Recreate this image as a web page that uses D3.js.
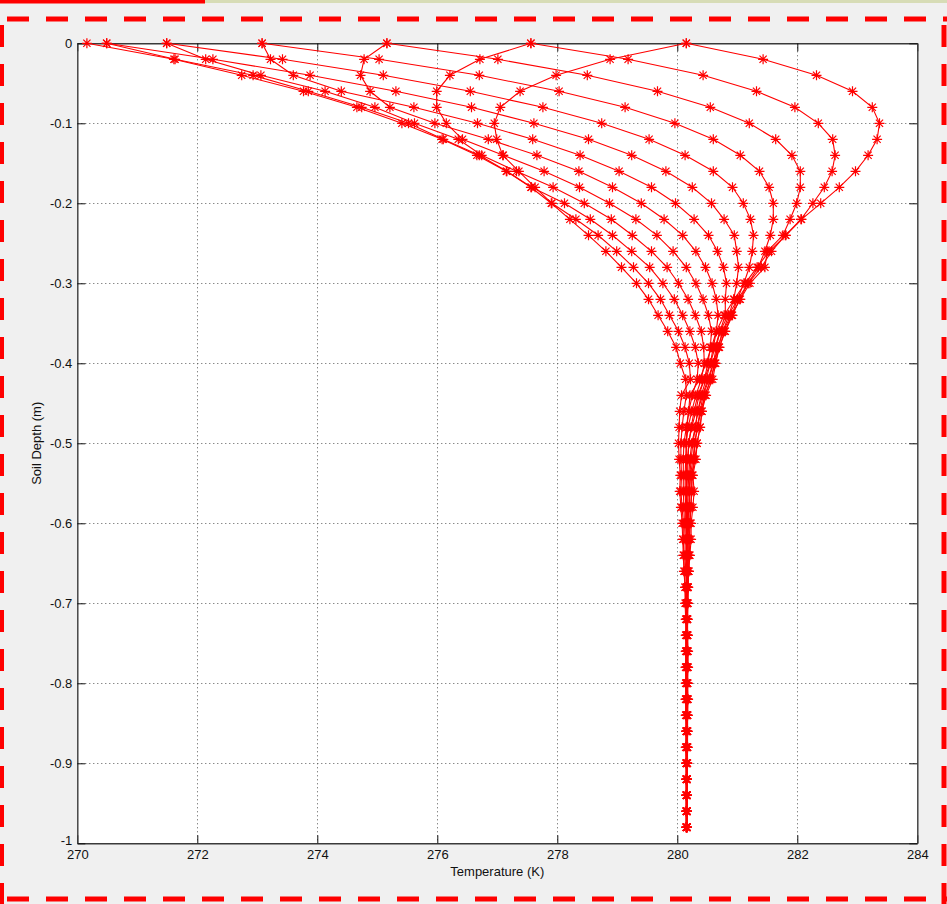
<!DOCTYPE html>
<html><head><meta charset="utf-8">
<script src="https://cdn.jsdelivr.net/npm/d3@7"></script>
<style>
html,body{margin:0;padding:0;background:#f0f0f0;}
svg{display:block;}
</style></head><body>
<svg id="chart" width="947" height="904"></svg>
<script>
// ---------- data ----------
const depth = [0,-0.02,-0.04,-0.06,-0.08,-0.1,-0.12,-0.14,-0.16,-0.18,-0.2,-0.22,-0.24,-0.26,-0.28,-0.3,-0.32,-0.34,-0.36,-0.38,-0.4,-0.42,-0.44,-0.46,-0.48,-0.5,-0.52,-0.54,-0.56,-0.58,-0.6,-0.62,-0.64,-0.66,-0.68,-0.7,-0.72,-0.74,-0.76,-0.78,-0.8,-0.82,-0.84,-0.86,-0.88,-0.9,-0.92,-0.94,-0.96,-0.98];

const profile01 = [280.15,281.43,282.32,282.92,283.25,283.37,283.33,283.18,282.97,282.70,282.39,282.07,281.81,281.53,281.33,281.13,280.95,280.78,280.65,280.57,280.48,280.37,280.21,
  280.19,280.16,280.15,280.15,280.15,280.15,280.15,280.15,280.15,280.16,280.16,280.16,280.16,
  280.16,280.16,280.15,280.15,280.15,280.15,280.15,280.15,280.15,280.15,280.15,280.15,280.15,280.15];
const profile02 = [277.56,279.18,280.43,281.32,281.96,282.35,282.59,282.63,282.58,282.45,282.26,282.06,281.80,281.57,281.40,281.18,281.01,280.85,280.71,280.63,280.55,280.45,280.34,
  280.28,280.23,280.19,280.18,280.17,280.16,280.16,280.16,280.16,280.16,280.16,280.16,280.16,
  280.16,280.16,280.16,280.16,280.16,280.16,280.16,280.16,280.16,280.16,280.16,280.16,280.16,280.16];
const profile03 = [275.16,277.01,278.50,279.67,280.55,281.20,281.64,281.91,282.05,282.05,281.99,281.88,281.76,281.50,281.46,281.21,281.05,280.90,280.76,280.68,280.60,280.51,280.42,
  280.34,280.30,280.26,280.23,280.21,280.20,280.19,280.18,280.18,280.18,280.17,280.17,280.16,
  280.16,280.17,280.17,280.17,280.17,280.17,280.17,280.17,280.16,280.16,280.16,280.16,280.16,280.16];
const profile04 = [273.08,275.03,276.70,278.03,279.13,279.96,280.60,281.05,281.37,281.53,281.60,281.60,281.55,281.46,281.35,281.18,281.04,280.92,280.80,280.70,280.63,280.56,280.46,
  280.39,280.34,280.29,280.28,280.24,280.24,280.23,280.21,280.21,280.20,280.19,280.18,280.17,
  280.17,280.17,280.17,280.17,280.17,280.17,280.17,280.17,280.17,280.16,280.16,280.16,280.16,280.16];
const profile05 = [271.49,273.42,275.10,276.55,277.76,278.74,279.53,280.13,280.60,280.92,281.10,281.22,281.27,281.25,281.20,281.11,281.00,280.91,280.79,280.70,280.64,280.59,280.48,
  280.41,280.38,280.33,280.31,280.26,280.28,280.26,280.23,280.23,280.21,280.19,280.18,280.18,
  280.17,280.17,280.18,280.18,280.17,280.18,280.17,280.17,280.17,280.17,280.16,280.16,280.16,280.16];
const profile06 = [270.49,272.26,273.88,275.31,276.57,277.61,278.52,279.24,279.81,280.25,280.57,280.78,280.95,280.99,281.02,280.99,280.94,280.86,280.76,280.68,280.62,280.56,280.46,
  280.41,280.38,280.33,280.29,280.25,280.24,280.22,280.21,280.20,280.19,280.19,280.18,280.17,
  280.17,280.17,280.17,280.17,280.17,280.17,280.17,280.16,280.17,280.16,280.16,280.16,280.16,280.16];
const profile07 = [273.08,273.22,273.60,274.40,275.61,276.67,277.59,278.38,279.03,279.57,279.97,280.28,280.52,280.67,280.77,280.82,280.80,280.80,280.71,280.65,280.60,280.53,280.43,
  280.38,280.33,280.29,280.26,280.22,280.21,280.20,280.19,280.18,280.18,280.17,280.17,280.16,
  280.16,280.17,280.16,280.17,280.16,280.17,280.16,280.16,280.16,280.16,280.16,280.16,280.16,280.16];
const profile08 = [275.16,274.78,274.72,274.88,275.21,275.96,276.85,277.66,278.36,278.92,279.40,279.78,280.09,280.31,280.47,280.58,280.65,280.68,280.65,280.60,280.55,280.48,280.40,
  280.34,280.30,280.24,280.21,280.19,280.18,280.17,280.17,280.17,280.16,280.16,280.16,280.16,
  280.16,280.16,280.16,280.16,280.16,280.16,280.16,280.16,280.16,280.16,280.16,280.16,280.16,280.16];
const profile09 = [277.56,276.71,276.21,275.99,275.99,276.15,276.42,277.10,277.78,278.37,278.87,279.31,279.66,279.93,280.15,280.31,280.43,280.52,280.57,280.55,280.51,280.45,280.36,
  280.31,280.24,280.19,280.17,280.15,280.15,280.15,280.15,280.16,280.16,280.16,280.16,280.16,
  280.16,280.16,280.16,280.16,280.16,280.16,280.16,280.16,280.16,280.16,280.16,280.16,280.16,280.16];
const profile10 = [271.49,272.14,273.06,274.13,274.96,275.62,276.35,276.74,277.32,277.93,278.45,278.90,279.25,279.57,279.83,280.02,280.18,280.30,280.40,280.44,280.45,280.40,280.31,
  280.24,280.18,280.15,280.14,280.13,280.13,280.14,280.14,280.15,280.15,280.16,280.16,280.16,
  280.16,280.15,280.15,280.15,280.15,280.15,280.15,280.15,280.15,280.15,280.15,280.15,280.15,280.15];
const profile11 = [270.49,271.63,272.93,273.85,274.74,275.52,276.10,276.70,277.16,277.57,278.12,278.55,278.92,279.24,279.54,279.76,279.95,280.09,280.21,280.30,280.35,280.33,280.25,
  280.19,280.15,280.11,280.10,280.10,280.10,280.11,280.12,280.13,280.13,280.14,280.15,280.15,
  280.15,280.15,280.15,280.15,280.15,280.14,280.15,280.15,280.15,280.15,280.15,280.15,280.15,280.15];
const profile12 = [280.15,278.88,277.98,277.38,277.05,276.95,276.99,277.09,277.36,277.63,277.91,278.31,278.68,278.99,279.27,279.52,279.72,279.87,280.02,280.13,280.20,280.22,280.07,
  280.04,280.03,280.02,280.03,280.05,280.04,280.06,280.08,280.09,280.10,280.11,280.13,280.13,
  280.14,280.14,280.14,280.14,280.14,280.14,280.14,280.15,280.14,280.15,280.15,280.15,280.15,280.15];
const profile13 = [270.16,271.61,272.74,273.77,274.66,275.41,276.08,276.66,277.15,277.56,277.90,278.21,278.52,278.81,279.07,279.32,279.52,279.68,279.84,279.98,280.05,280.14,280.15,
  280.11,280.08,280.06,280.06,280.07,280.06,280.08,280.10,280.10,280.11,280.12,280.13,280.14,
  280.15,280.15,280.15,280.14,280.15,280.15,280.15,280.15,280.15,280.15,280.15,280.15,280.15,280.15];

const profiles = [profile01,profile02,profile03,profile04,profile05,profile06,profile07,profile08,profile09,profile10,profile11,profile12,profile13];

const xTicks = [270,272,274,276,278,280,282,284];
const xTickLabels = ["270","272","274","276","278","280","282","284"];
const yTicks = [0,-0.1,-0.2,-0.3,-0.4,-0.5,-0.6,-0.7,-0.8,-0.9,-1];
const yTickLabels = ["0","-0.1","-0.2","-0.3","-0.4","-0.5","-0.6","-0.7","-0.8","-0.9","-1"];
const xTitle = "Temperature (K)";
const yTitle = "Soil Depth (m)";

// ---------- drawing ----------
const svg = d3.select("#chart");
const FONT = "'Liberation Sans', Arial, Helvetica, sans-serif";
const L = 77.3, R = 917.3, T = 43.3, B = 843.3;
const x = d3.scaleLinear().domain([270,284]).range([L,R]);
const y = d3.scaleLinear().domain([-1,0]).range([B,T]);

svg.append("rect").attr("width",947).attr("height",904).attr("fill","#f0f0f0");
// top strip
svg.append("rect").attr("x",205).attr("y",0).attr("width",742).attr("height",3).attr("fill","#d7dcb6");
svg.append("rect").attr("x",0).attr("y",0).attr("width",205).attr("height",3.5).attr("fill","#ff0000");

// plot area
svg.append("rect").attr("x",L).attr("y",T).attr("width",R-L).attr("height",B-T).attr("fill","#ffffff");

// grid
const grid = svg.append("g").attr("stroke","#222").attr("stroke-width",1).attr("stroke-dasharray","1,3").attr("opacity",0.75);
xTicks.slice(1,-1).forEach(v=>{
  grid.append("line").attr("x1",Math.round(x(v))+0.5).attr("x2",Math.round(x(v))+0.5).attr("y1",T).attr("y2",B);
});
yTicks.slice(1,-1).forEach(v=>{
  grid.append("line").attr("y1",Math.round(y(v))+0.5).attr("y2",Math.round(y(v))+0.5).attr("x1",L).attr("x2",R);
});

// axes
const fmtX = d => xTickLabels[xTicks.indexOf(d)];
const fmtY = d => yTickLabels[yTicks.indexOf(d)];
function styleAxis(g){
  g.select(".domain").attr("stroke","#3a3a3a").attr("stroke-width",1.4);
  g.selectAll(".tick line").attr("stroke","#111").attr("stroke-width",1);
  g.selectAll("text").attr("font-family",FONT).attr("font-size",13).attr("fill","#111");
}
svg.append("g").attr("transform",`translate(0,${B})`)
  .call(d3.axisBottom(x).tickValues(xTicks).tickFormat(fmtX).tickSizeInner(-8).tickSizeOuter(0).tickPadding(6))
  .call(styleAxis);
svg.append("g").attr("transform",`translate(0,${T})`)
  .call(d3.axisTop(x).tickValues(xTicks).tickFormat("").tickSizeInner(-8).tickSizeOuter(0))
  .call(styleAxis);
const yAx = svg.append("g").attr("transform",`translate(${L},0)`)
  .call(d3.axisLeft(y).tickValues(yTicks).tickFormat(fmtY).tickSizeInner(-8).tickSizeOuter(0).tickPadding(5))
  .call(styleAxis);
// nudge the bottom "-1" label slightly up so it does not collide with "270"
yAx.selectAll(".tick").filter(d=>d===-1).select("text").attr("y",-3);
svg.append("g").attr("transform",`translate(${R},0)`)
  .call(d3.axisRight(y).tickValues(yTicks).tickFormat("").tickSizeInner(-8).tickSizeOuter(0))
  .call(styleAxis);

// titles
svg.append("text").attr("x",(L+R)/2).attr("y",876).attr("text-anchor","middle")
  .attr("font-family",FONT).attr("font-size",13).attr("fill","#111").text(xTitle);
svg.append("text").attr("transform",`translate(41,${(T+B)/2}) rotate(-90)`).attr("text-anchor","middle")
  .attr("font-family",FONT).attr("font-size",13).attr("fill","#111").text(yTitle);

// series
const line = d3.line().x(d=>x(d[0])).y(d=>y(d[1]));
const star = "M-5,0H5M0,-5V5M-3.6,-3.6L3.6,3.6M-3.6,3.6L3.6,-3.6";
const sg = svg.append("g");
profiles.forEach(p=>{
  const pts = p.map((t,i)=>[t,depth[i]]);
  const g = sg.append("g");
  g.append("path").attr("d",line(pts)).attr("fill","none").attr("stroke","#ff0000").attr("stroke-width",1.1);
  g.selectAll("path.m").data(pts).enter().append("path").attr("class","m")
    .attr("d",star).attr("transform",d=>`translate(${x(d[0])},${y(d[1])})`)
    .attr("fill","none").attr("stroke","#ff0000").attr("stroke-width",1.2);
});

// red dashed selection border
const bd = svg.append("g").attr("stroke","#ff0000").attr("stroke-width",5).attr("fill","none");
bd.append("line").attr("x1",0).attr("x2",947).attr("y1",19).attr("y2",19).attr("stroke-dasharray","22,17").attr("stroke-dashoffset",-7);
bd.append("line").attr("x1",0).attr("x2",947).attr("y1",899).attr("y2",899).attr("stroke-dasharray","22,17").attr("stroke-dashoffset",-7);
bd.append("line").attr("x1",1.5).attr("x2",1.5).attr("y1",17).attr("y2",904).attr("stroke-dasharray","22,17").attr("stroke-dashoffset",-8);
bd.append("line").attr("x1",944).attr("x2",944).attr("y1",17).attr("y2",904).attr("stroke-dasharray","22,17").attr("stroke-dashoffset",-8);
</script>
</body></html>
